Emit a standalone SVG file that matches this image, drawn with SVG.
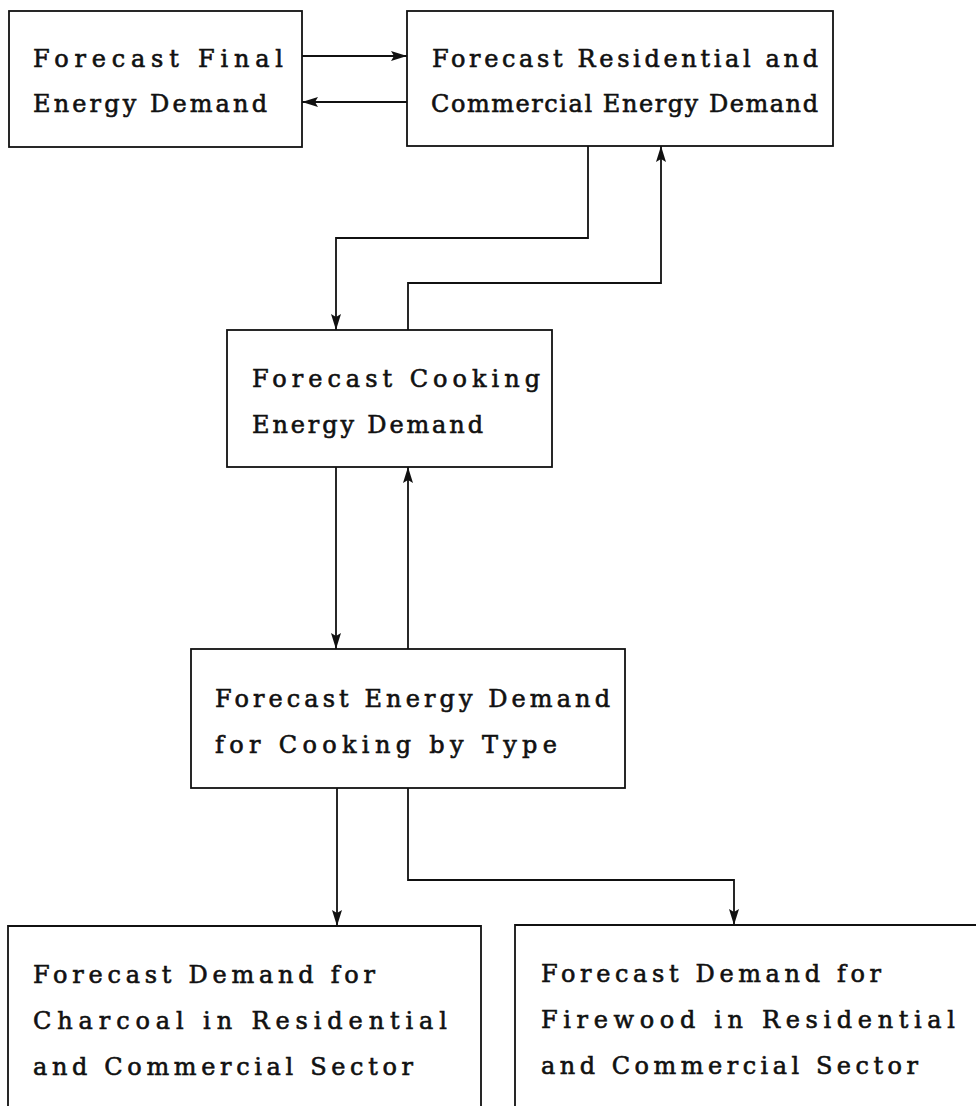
<svg xmlns="http://www.w3.org/2000/svg" width="976" height="1106" viewBox="0 0 976 1106">
<defs>
<style>
.box{fill:#fff;stroke:#111;stroke-width:1.8}
.t{font-family:"DejaVu Serif","Liberation Serif",serif;font-size:24px;fill:#111;stroke:#111;stroke-width:0.6}
.c{fill:none;stroke:#111;stroke-width:1.8}
</style>
<marker id="ah" viewBox="0 0 16 10" refX="16" refY="5" markerWidth="16" markerHeight="10" markerUnits="userSpaceOnUse" orient="auto">
<path d="M0,0 L16,5 L0,10 L3,5 Z" fill="#111"/>
</marker>
</defs>
<rect width="976" height="1106" fill="#fff"/>
<g id="connectors">
<path class="c" d="M302,56 H407" marker-end="url(#ah)"/>
<path class="c" d="M407,102 H302" marker-end="url(#ah)"/>
<path class="c" d="M588,146 V238 H336 V330" marker-end="url(#ah)"/>
<path class="c" d="M408,330 V283 H661 V146" marker-end="url(#ah)"/>
<path class="c" d="M336,467 V649" marker-end="url(#ah)"/>
<path class="c" d="M408,649 V467" marker-end="url(#ah)"/>
<path class="c" d="M337,788 V926" marker-end="url(#ah)"/>
<path class="c" d="M408,788 V880 H734 V925" marker-end="url(#ah)"/>
</g>
<g id="node-final">
<rect class="box" x="9" y="11" width="293" height="136"/>
<text class="t" x="33" y="67" textLength="250" lengthAdjust="spacing">Forecast Final</text>
<text class="t" x="33" y="112" textLength="234" lengthAdjust="spacing">Energy Demand</text>
</g>
<g id="node-residential">
<rect class="box" x="407" y="11" width="426" height="135"/>
<text class="t" x="432" y="67" textLength="386" lengthAdjust="spacing">Forecast Residential and</text>
<text class="t" x="431" y="112" textLength="387" lengthAdjust="spacing">Commercial Energy Demand</text>
</g>
<g id="node-cooking">
<rect class="box" x="227" y="330" width="325" height="137"/>
<text class="t" x="252" y="387" textLength="288" lengthAdjust="spacing">Forecast Cooking</text>
<text class="t" x="252" y="433" textLength="231" lengthAdjust="spacing">Energy Demand</text>
</g>
<g id="node-bytype">
<rect class="box" x="191" y="649" width="434" height="139"/>
<text class="t" x="215" y="707" textLength="395" lengthAdjust="spacing">Forecast Energy Demand</text>
<text class="t" x="215" y="753" textLength="342" lengthAdjust="spacing">for Cooking by Type</text>
</g>
<g id="node-charcoal">
<path class="box" d="M8,1110 V926 H481 V1110"/>
<text class="t" x="33" y="983" textLength="342" lengthAdjust="spacing">Forecast Demand for</text>
<text class="t" x="33" y="1029" textLength="414" lengthAdjust="spacing">Charcoal in Residential</text>
<text class="t" x="33" y="1075" textLength="380" lengthAdjust="spacing">and Commercial Sector</text>
</g>
<g id="node-firewood">
<path class="box" d="M515,1110 V925 H980"/>
<text class="t" x="541" y="982" textLength="340" lengthAdjust="spacing">Forecast Demand for</text>
<text class="t" x="541" y="1028" textLength="414" lengthAdjust="spacing">Firewood in Residential</text>
<text class="t" x="541" y="1074" textLength="377" lengthAdjust="spacing">and Commercial Sector</text>
</g>
</svg>
